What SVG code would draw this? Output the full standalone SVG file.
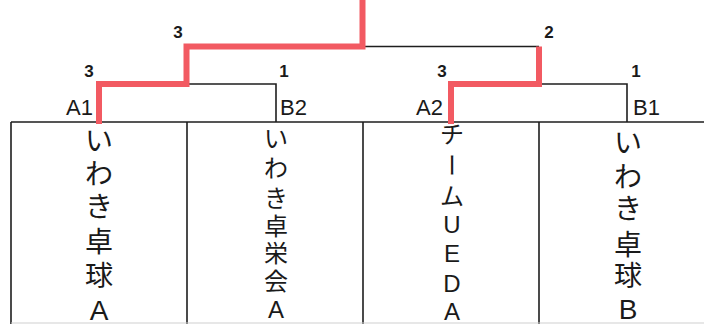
<svg xmlns="http://www.w3.org/2000/svg" width="704" height="324" viewBox="0 0 704 324">
<style>
.frame{stroke:#1e1e1e;stroke-width:1.6;fill:none}
.win{stroke:#f25a62;stroke-width:6;fill:none;stroke-linejoin:miter;stroke-linecap:butt}
.lose{stroke:#1e1e1e;stroke-width:1.6;fill:none}
.score{font-family:"Liberation Sans",sans-serif;font-size:17px;font-weight:bold;fill:#1a1a1a;text-anchor:middle}
.seed{font-family:"Liberation Sans",sans-serif;font-size:22px;fill:#1a1a1a}
.big{font-family:"Liberation Sans","Noto Sans CJK JP",sans-serif;font-size:28px;fill:#1a1a1a;text-anchor:middle;dominant-baseline:central}
.small{font-family:"Liberation Sans","Noto Sans CJK JP",sans-serif;font-size:24px;fill:#1a1a1a;text-anchor:middle;dominant-baseline:central}
</style>
<rect width="704" height="324" fill="#ffffff"/>
<g id="table">
<path class="frame" d="M11,122 H704 M11,122 V324 M187,122 V324 M363,122 V324 M539,122 V324"/>
<path d="M11,323 H704" stroke="#cfcfcf" stroke-width="1.2" fill="none"/>
</g>
<g id="connectors">
<path class="lose" d="M186,84 H276 V122"/>
<path class="lose" d="M362,46.5 H539"/>
<path class="lose" d="M539,84 H627 V122"/>
<path class="win" d="M99,124 V84 H186.5 V46.5 H362.5 V0"/>
<path class="win" d="M451,124 V84 H539 V46.5"/>
</g>
<g id="scores">
<text class="score" x="178" y="38">3</text>
<text class="score" x="549" y="38">2</text>
<text class="score" x="89" y="77">3</text>
<text class="score" x="284" y="77">1</text>
<text class="score" x="442" y="77">3</text>
<text class="score" x="636" y="77">1</text>
</g>
<g id="team-A1">
<text class="seed" x="93" y="115" text-anchor="end">A1</text>
<text class="big"><tspan x="99" y="141">い</tspan><tspan x="99" y="174">わ</tspan><tspan x="99" y="207">き</tspan><tspan x="99" y="242">卓</tspan><tspan x="99" y="276">球</tspan><tspan x="99" y="310">A</tspan></text>
</g>
<g id="team-B2">
<text class="seed" x="280" y="115">B2</text>
<text class="small"><tspan x="276" y="138">い</tspan><tspan x="276" y="168">わ</tspan><tspan x="276" y="198">き</tspan><tspan x="276" y="226">卓</tspan><tspan x="276" y="253">栄</tspan><tspan x="276" y="281">会</tspan><tspan x="276" y="309">A</tspan></text>
</g>
<g id="team-A2">
<text class="seed" x="443" y="115" text-anchor="end">A2</text>
<text class="small"><tspan x="452" y="134">チ</tspan></text>
<text class="small" transform="rotate(90 452 165)"><tspan x="452" y="165">ー</tspan></text>
<text class="small"><tspan x="452" y="196">ム</tspan><tspan x="452" y="224">U</tspan><tspan x="452" y="253">E</tspan><tspan x="452" y="283">D</tspan><tspan x="452" y="311">A</tspan></text>
</g>
<g id="team-B1">
<text class="seed" x="633" y="115">B1</text>
<text class="big"><tspan x="628" y="143">い</tspan><tspan x="628" y="177">わ</tspan><tspan x="628" y="209">き</tspan><tspan x="628" y="245">卓</tspan><tspan x="628" y="276">球</tspan><tspan x="628" y="309">B</tspan></text>
</g>
</svg>
